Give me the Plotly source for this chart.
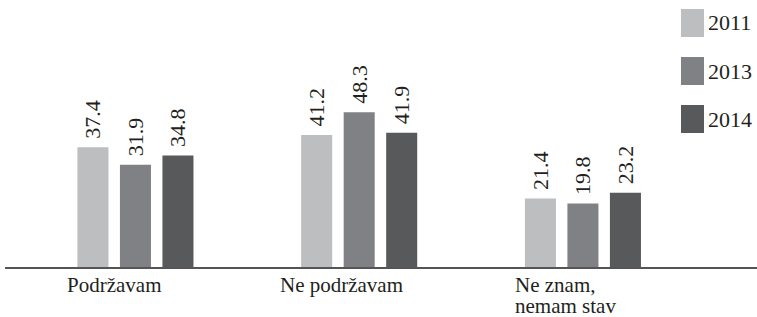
import plotly.graph_objects as go

categories = ["Podržavam", "Ne podržavam", "Ne znam,<br>nemam stav"]
series_names = ["2011", "2013", "2014"]
values_2011 = [37.4, 41.2, 21.4]
values_2013 = [31.9, 48.3, 19.8]
values_2014 = [34.8, 41.9, 23.2]
colors = ["#BDBEC0", "#808184", "#58595B"]

series_values = [values_2011, values_2013, values_2014]

# layout / style settings
W, H = 757, 317
ML, MR, MT, MB = 5, 0, 0, 50
PW = W - ML - MR
PH = H - MT - MB
FONT = "Liberation Serif"
TXT = "#231F20"
label_xshift = [-70, -81, -70]

x_idx = list(range(len(categories)))

fig = go.Figure()
for name, vals, col in zip(series_names, series_values, colors):
    fig.add_trace(go.Bar(
        x=x_idx, y=vals, name=name, marker_color=col, marker_line_width=0,
        texttemplate="\u00a0%{y:.1f}", textposition="outside", textangle=-90,
        constraintext="none",
        textfont=dict(family=FONT, size=22, color=TXT),
        cliponaxis=False, showlegend=False, hoverinfo="skip",
    ))

# category labels (left aligned under each group, tight line spacing)
annotations = []
for i, c in enumerate(categories):
    for j, line in enumerate(c.split("<br>")):
        annotations.append(dict(
            x=i, y=0, xref="x", yref="y", text=line, showarrow=False,
            xanchor="left", yanchor="top", align="left",
            xshift=label_xshift[i], yshift=-4 - 21 * j,
            font=dict(family=FONT, size=21, color=TXT),
        ))

# custom legend with large swatches
def px_x(p):
    return (p - ML) / PW

def px_y(p):
    return (H - MB - p) / PH

shapes = []
for k, (name, col) in enumerate(zip(series_names, colors)):
    top = 9 + 48 * k
    shapes.append(dict(type="rect", xref="paper", yref="paper",
                       x0=px_x(681), x1=px_x(704), y0=px_y(top + 28), y1=px_y(top),
                       fillcolor=col, line_width=0))
    annotations.append(dict(x=px_x(706), y=px_y(top + 14), xref="paper", yref="paper",
                            text=name, showarrow=False, xanchor="left", yanchor="middle",
                            font=dict(family=FONT, size=22, color=TXT)))

fig.update_layout(
    width=W, height=H,
    margin=dict(l=ML, r=MR, t=MT, b=MB),
    plot_bgcolor="white", paper_bgcolor="white",
    barmode="group", bargap=0.43, bargroupgap=0.27,
    xaxis=dict(range=[-0.583, 2.778], showticklabels=False, ticks="", showgrid=False,
               zeroline=False, showline=True, linecolor="#555555", linewidth=2),
    yaxis=dict(range=[0, 83.4], visible=False, showgrid=False, zeroline=False),
    annotations=annotations, shapes=shapes,
)

fig.write_html("out.html", config={"displayModeBar": False},
               post_script="document.body.style.margin='0';document.body.style.overflow='hidden';")
